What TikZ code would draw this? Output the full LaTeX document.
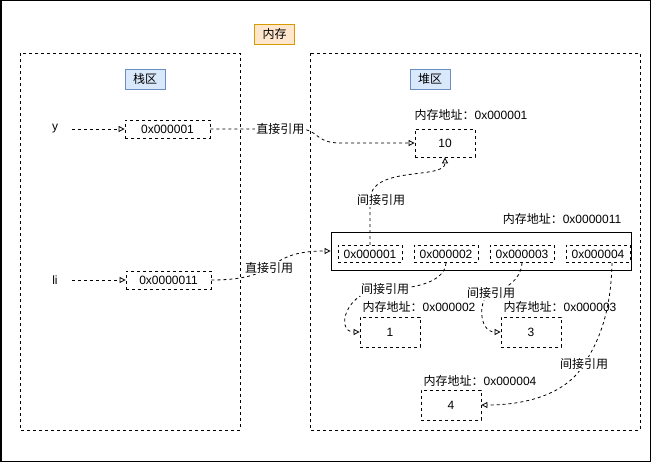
\documentclass[tikz,border=0pt]{standalone}
\usepackage{fontspec}
\setmainfont{Liberation Sans}
\newfontfamily\cjk{Noto Sans CJK SC}
\usetikzlibrary{arrows.meta}

\begin{document}
\begin{tikzpicture}[x=1pt,y=-1pt,
  box/.style={draw, dash pattern=on 3pt off 3pt, line width=.8pt, minimum width=60pt, minimum height=30pt, inner sep=0pt},
  cell/.style={box, minimum width=64pt, minimum height=17pt},
  ptr/.style={box, minimum width=85pt, minimum height=18pt},
  tag/.style={draw, line width=.8pt, minimum width=40pt, minimum height=20pt, inner sep=0pt, font=\cjk},
  region/.style={draw, dash pattern=on 3pt off 3pt, line width=.8pt},
  var/.style={minimum width=34pt, inner sep=0pt},
  lbl/.style={fill=white, inner sep=1pt, font=\cjk},
  ref/.style={draw, dash pattern=on 3pt off 3pt, line width=.8pt, -{Triangle[open,length=6pt,width=6pt]}}]

\definecolor{memFill}{RGB}{255,230,204}
\definecolor{memLine}{RGB}{215,155,0}
\definecolor{areaFill}{RGB}{218,232,252}
\definecolor{areaLine}{RGB}{108,142,191}
\fontsize{12}{14}\selectfont

\useasboundingbox (0,0) rectangle (651,462);
\draw[line width=1.5pt] (0.75,0.75) rectangle (650.25,461.25);

% titles and regions
\node[tag, fill=memFill, draw=memLine] (mem) at (274.5,34) {内存};
\draw[region] (20,53) rectangle (240,430);
\draw[region] (310,53) rectangle (640,430);
\node[tag, fill=areaFill, draw=areaLine] (stack) at (145,79) {栈区};
\node[tag, fill=areaFill, draw=areaLine] (heap) at (430,79) {堆区};

% stack
\node[var] (yv) at (55,129) {y};
\node[ptr] (ybox) at (167.5,129) {0x000001};
\node[var] (liv) at (55,280) {li};
\node[ptr] (libox) at (168.5,280) {0x0000011};

% heap
\node at (471,115) {{\cjk 内存地址：}0x000001};
\node[box, minimum height=28pt] (v10) at (445,143) {10};
\node at (562,219) {{\cjk 内存地址：}0x0000011};
\node[draw, line width=.8pt, minimum width=300pt, minimum height=38pt] (arr) at (481,251) {};
\node[cell] (a1) at (370,254) {0x000001};
\node[cell] (a2) at (446,254) {0x000002};
\node[cell] (a3) at (522,254) {0x000003};
\node[cell] (a4) at (598,254) {0x000004};
\node at (419,307) {{\cjk 内存地址：}0x000002};
\node[box] (b1) at (390,332) {1};
\node at (560,307) {{\cjk 内存地址：}0x000003};
\node[box] (b3) at (531,332) {3};
\node at (480,381) {{\cjk 内存地址：}0x000004};
\node[box] (b4) at (451,405) {4};

% references
\draw[ref] (yv) -- (ybox);
\draw[ref] (liv) -- (libox);
\draw[ref] (ybox.east) -- (300,129) node[lbl, pos=.78] {直接引用}
  .. controls (318,129) and (315,143) .. (340,143) -- (v10.west);
\draw[ref] (libox.east) .. controls (285,280) and (262,251) .. (arr.west) node[lbl, pos=.45] {直接引用};
\draw[ref] (a1.north) -- (370,200) node[lbl, pos=1, xshift=11pt] {间接引用}
  .. controls (370,165) and (445,180) .. (v10.south);
\draw[ref] (a2.south) .. controls (445,280) and (420,289) .. (385,289) node[lbl] {间接引用}
  .. controls (345,289) and (335,332) .. (b1.west);
\draw[ref] (a3.south) .. controls (521,280) and (505,290) .. (491,293) node[lbl] {间接引用}
  .. controls (478,297) and (478,332) .. (b3.west);
\draw[ref] ([xshift=14pt]a4.south) .. controls (611,310) and (600,340) .. (584,364) node[lbl] {间接引用}
  .. controls (568,392) and (530,405) .. (b4.east);

\end{tikzpicture}
\end{document}
